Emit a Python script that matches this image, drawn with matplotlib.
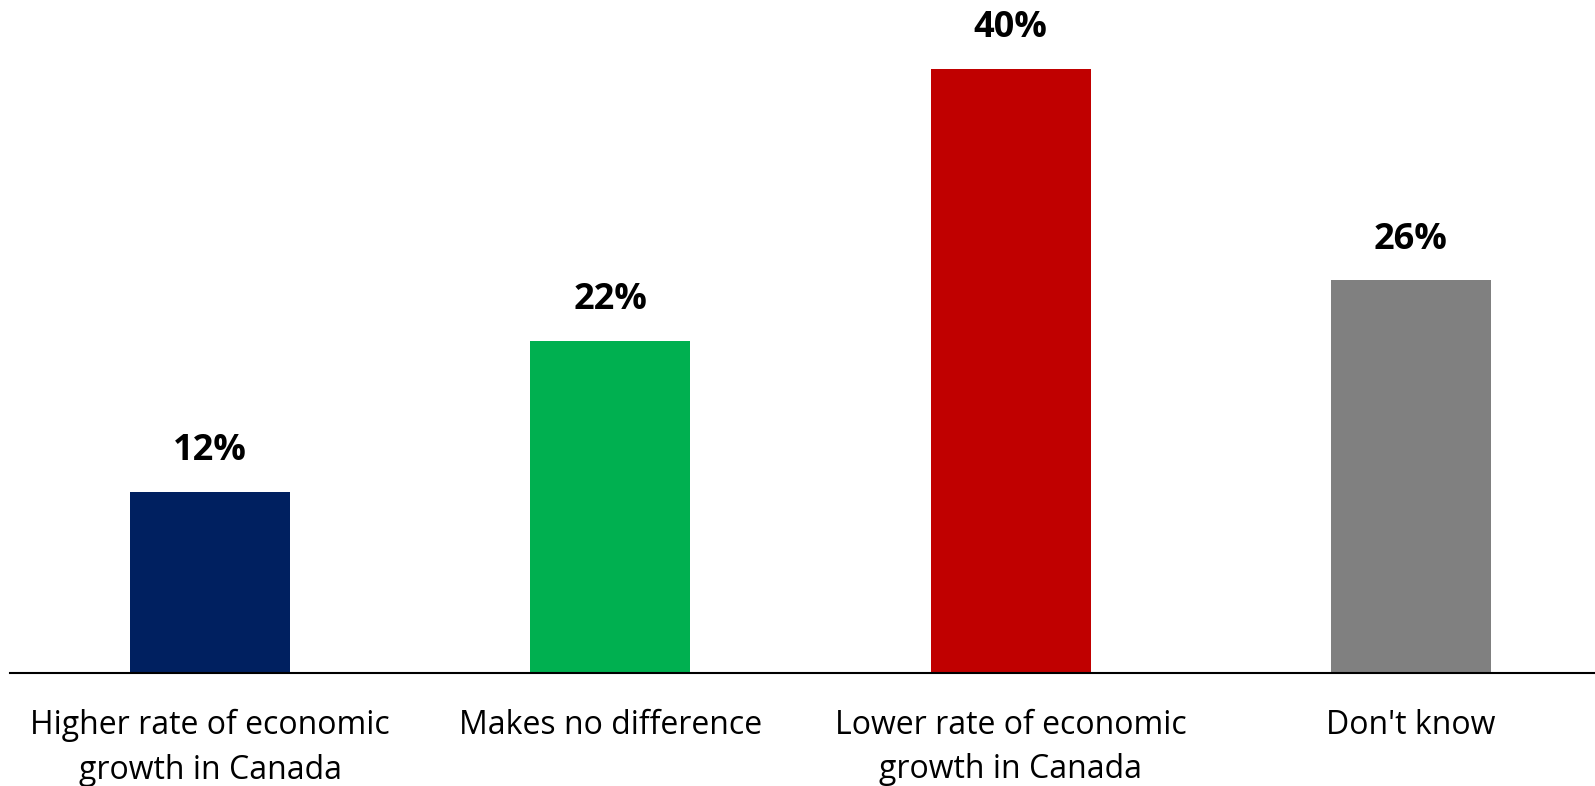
import matplotlib
matplotlib.use("Agg")
import matplotlib.pyplot as plt

categories = ["Higher rate of economic\ngrowth in Canada", "Makes no difference",
              "Lower rate of economic\ngrowth in Canada", "Don't know"]
values = [12, 22, 40, 26]
labels = ["12%", "22%", "40%", "26%"]
colors = ["#002060", "#00B050", "#C00000", "#808080"]

plt.rcParams['font.family'] = ['Open Sans', 'DejaVu Sans']

fig = plt.figure(figsize=(15.95, 7.86), dpi=100)
ax = fig.add_axes([10/1595, 113/786, 1 - 10/1595, 1 - 113/786])
x = list(range(len(categories)))
bars = ax.bar(x, values, width=0.40, color=colors)
ax.set_xlim(-0.5, 3.46)
ax.set_ylim(0, 44.57)
for xi, v, lab in zip(x, values, labels):
    ax.text(xi, v + 1.5, lab, ha='center', va='bottom', fontsize=26, fontweight='bold')
for s in ['top', 'right', 'left']:
    ax.spines[s].set_visible(False)
ax.spines['bottom'].set_linewidth(1.5)
ax.set_yticks([])
ax.set_xticks(x)
ax.set_xticklabels(categories, fontsize=23, linespacing=1.45)
ax.tick_params(axis='x', length=0, pad=26)
fig.savefig("out.png", dpi=100)
